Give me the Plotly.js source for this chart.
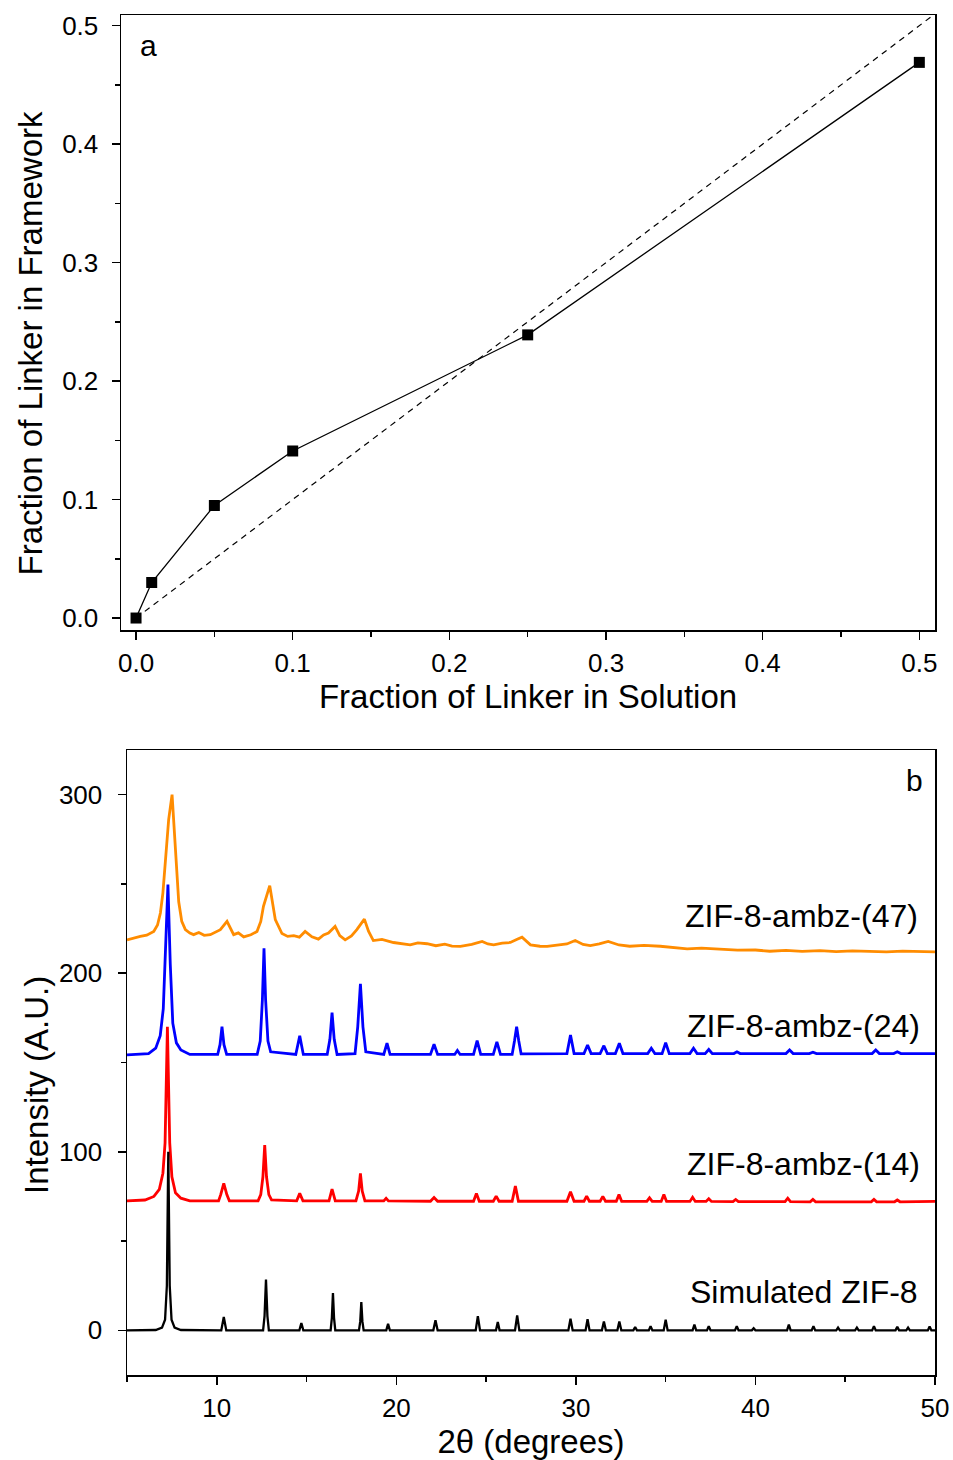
<!DOCTYPE html>
<html>
<head>
<meta charset="utf-8">
<script src="https://cdn.plot.ly/plotly-3.0.1.min.js"></script>
<style>html,body{margin:0;padding:0;background:#fff;}#chart{width:953px;height:1460px;}</style>
</head>
<body>
<div id="chart"></div>
<script>
// ---------- Panel a ----------
const solFrac = [0, 0.01, 0.05, 0.10, 0.25, 0.50];
const frameFrac = [0, 0.030, 0.095, 0.141, 0.239, 0.469];
const parityX = [0, 0.51];
const parityY = [0, 0.51];

// ---------- Panel b (2θ, intensity) ----------
const simX = [5, 6.6, 6.95, 7.12, 7.22, 7.3, 7.38, 7.48, 7.65, 8.0,
  10.25, 10.39, 10.53, 12.58, 12.66, 12.74, 12.82, 12.9,
  14.6, 14.71, 14.82, 16.34, 16.41, 16.47, 16.53, 16.6,
  17.92, 17.99, 18.05, 18.11, 18.18, 19.44, 19.54, 19.64,
  22.06, 22.18, 22.3, 24.42, 24.54, 24.66, 25.55, 25.65, 25.75,
  26.61, 26.73, 26.85, 29.58, 29.7, 29.82, 30.54, 30.65, 30.76,
  31.45, 31.56, 31.67, 32.31, 32.42, 32.53, 33.2, 33.3, 33.4,
  34.06, 34.16, 34.26, 34.89, 35.0, 35.11, 36.5, 36.6, 36.7,
  37.3, 37.4, 37.5, 38.86, 38.96, 39.06, 39.8, 39.9, 40.0,
  41.76, 41.86, 41.96, 43.13, 43.23, 43.33, 44.5, 44.6, 44.7,
  45.55, 45.65, 45.75, 46.5, 46.6, 46.7, 47.8, 47.9, 48.0,
  48.4, 48.5, 48.6, 49.6, 49.7, 49.8, 50];
const simY = [0, 0.2, 1.5, 6, 25, 100, 25, 6, 1.5, 0.2,
  0, 7.5, 0, 0, 8, 28.4, 8, 0,
  0, 4.1, 0, 0, 7, 20.9, 7, 0,
  0, 5, 15.9, 5, 0, 0, 3.7, 0,
  0, 5.6, 0, 0, 8.0, 0, 0, 4.7, 0,
  0, 8.4, 0, 0, 6.5, 0, 0, 6.2, 0,
  0, 5.0, 0, 0, 5.0, 0, 0, 1.9, 0,
  0, 2.4, 0, 0, 6.0, 0, 0, 3.2, 0,
  0, 2.4, 0, 0, 2.4, 0, 0, 1.2, 0,
  0, 3.2, 0, 0, 2.4, 0, 0, 1.5, 0,
  0, 1.5, 0, 0, 2.4, 0, 0, 2.0, 0,
  0, 1.5, 0, 0, 2.2, 0, 0];

const z14X = [5, 6.0, 6.5, 6.8, 7.0, 7.12, 7.25, 7.38, 7.5, 7.7, 8.0, 8.5,
  10.1, 10.22, 10.39, 10.56, 10.7, 12.3, 12.45, 12.57, 12.67, 12.77, 12.9, 13.05,
  14.45, 14.62, 14.8, 16.25, 16.42, 16.6, 17.75, 17.9, 18.0, 18.1, 18.25,
  19.3, 19.43, 19.56, 21.9, 22.1, 22.3, 24.3, 24.46, 24.62,
  25.4, 25.56, 25.72, 26.45, 26.63, 26.8, 29.5, 29.7, 29.9,
  30.45, 30.6, 30.75, 31.35, 31.5, 31.65, 32.25, 32.4, 32.55,
  33.95, 34.1, 34.25, 34.75, 34.9, 35.05, 36.35, 36.5, 36.65,
  37.25, 37.4, 37.55, 38.75, 38.9, 39.05, 41.65, 41.8, 41.95,
  43.05, 43.2, 43.35, 46.45, 46.6, 46.75, 47.75, 47.9, 48.05, 50];
const z14Y = [72.5, 73, 75, 79, 88, 105, 170, 105, 86, 77, 74, 72.5,
  72.5, 76, 82.3, 76, 72.5, 72.5, 76, 86, 103.8, 86, 76, 73,
  72.5, 76.7, 72.5, 72.5, 79.1, 72.5, 72.5, 78, 87.9, 78, 72.5,
  72.5, 73.9, 72.5, 72.3, 74.4, 72.3, 72.3, 76.7, 72.3,
  72.3, 75.2, 72.3, 72.3, 80.8, 72.3, 72.3, 77.6, 72.3,
  72.3, 75.2, 72.3, 72.3, 75.0, 72.3, 72.3, 76.0, 72.3,
  72.2, 74.2, 72.2, 72.2, 76.0, 72.2, 72.2, 74.5, 72.2,
  72.2, 73.7, 72.2, 72.1, 73.3, 72.1, 72.1, 74.0, 72.1,
  72.0, 73.3, 72.0, 72.0, 73.3, 72.0, 72.0, 73.0, 72.0, 72.2];

const z24X = [5, 6.2, 6.6, 6.85, 7.02, 7.15, 7.28, 7.41, 7.55, 7.75, 8.0, 8.5,
  10.05, 10.18, 10.29, 10.4, 10.55, 12.25, 12.42, 12.54, 12.63, 12.72, 12.85, 13.0,
  14.4, 14.62, 14.82, 16.15, 16.3, 16.42, 16.54, 16.7,
  17.7, 17.85, 18.0, 18.14, 18.3, 19.3, 19.48, 19.65,
  21.9, 22.1, 22.3, 23.25, 23.4, 23.55, 24.3, 24.5, 24.7,
  25.4, 25.6, 25.8, 26.45, 26.58, 26.7, 26.82, 26.95,
  29.5, 29.7, 29.9, 30.45, 30.65, 30.85, 31.35, 31.56, 31.75,
  32.2, 32.42, 32.62, 34.0, 34.2, 34.4, 34.8, 35.0, 35.2,
  36.35, 36.55, 36.75, 37.2, 37.4, 37.6, 38.8, 38.97, 39.15,
  41.7, 41.9, 42.1, 43.0, 43.2, 43.4, 46.5, 46.7, 46.9,
  47.7, 47.9, 48.1, 50];
const z24Y = [154.3, 155, 158, 165, 180, 210, 249.6, 205, 172, 161, 157, 154.5,
  154.5, 160, 170.1, 160, 154.5, 154.5, 162, 185, 214, 185, 162, 156,
  154.5, 164.9, 154.5, 154.5, 163, 178, 163, 154.5,
  155, 170, 194, 170, 156, 154.5, 160.8, 154.5,
  154.5, 160.2, 154.5, 154.5, 156.7, 154.5, 154.5, 162.3, 154.5,
  154.5, 161.5, 154.5, 154.5, 162, 170.1, 162, 154.8,
  155, 165.4, 155, 155, 159.8, 155, 155, 159.4, 155,
  155, 160.8, 155, 155, 158, 155, 155, 161.1, 155,
  155, 158, 155, 155, 157.3, 155, 155, 156, 155,
  155, 157, 155, 155, 155.8, 155, 155, 157, 155,
  155, 156, 155, 155];

const z47X = [5, 5.3, 5.74, 6.1, 6.49, 6.7, 6.86, 7.0, 7.13, 7.32, 7.51, 7.69, 7.88, 8.05, 8.25,
  8.5, 8.71, 9.0, 9.3, 9.64, 9.9, 10.2, 10.57, 10.94, 11.2, 11.5, 11.9, 12.24,
  12.45, 12.6, 12.95, 13.26, 13.63, 13.95, 14.29, 14.6, 14.92, 15.3, 15.66, 15.95,
  16.22, 16.59, 16.85, 17.15, 17.5, 17.8, 18.22, 18.45, 18.72, 19.2, 19.84, 20.3,
  20.77, 21.2, 21.71, 22.2, 22.7, 23.1, 23.57, 24.2, 24.78, 25.1, 25.42, 25.9,
  26.35, 26.7, 27.0, 27.47, 28.0, 28.4, 29.0, 29.5, 29.96, 30.4, 30.8, 31.3,
  31.8, 32.4, 33.0, 33.8, 34.7, 35.5, 36.2, 37.0, 38.0, 39.0, 40.0, 40.8,
  41.7, 42.6, 43.6, 44.5, 45.4, 46.4, 47.3, 48.2, 49.1, 50];
const z47Y = [218.7, 219.6, 220.6, 221.3, 223.4, 227, 233.7, 245, 261.7, 286, 300, 271, 240, 229, 224.4,
  222.5, 221.6, 222.8, 221.2, 221.6, 223.1, 224.4, 229, 221.6, 222.6, 220.3, 221.5, 223.4,
  229, 237.5, 249, 230, 222.2, 220.6, 221, 220.2, 223.4, 220.4, 219.1, 221.4,
  222.5, 226.2, 221.1, 218.7, 220.9, 224.4, 230.3, 223.5, 218.3, 218.9, 217.2, 216.6,
  215.9, 217.0, 216.5, 215.4, 216.3, 215.2, 215.0, 216.1, 217.8, 216.4, 215.9, 216.8,
  217.2, 218.9, 220.2, 215.9, 215.1, 215.0, 215.9, 216.4, 218.3, 216.1, 215.5, 216.4,
  217.8, 215.8, 215.1, 215.6, 215.1, 214.5, 213.6, 214.1, 213.3, 212.9, 213.0, 212.3,
  212.8, 212.2, 212.7, 212.1, 212.5, 212.3, 211.9, 212.4, 212.0, 211.9];

const seriesNames = ['Simulated ZIF-8', 'ZIF-8-ambz-(14)', 'ZIF-8-ambz-(24)', 'ZIF-8-ambz-(47)'];
const labelX = [49.18, 49.29, 49.29, 49.18];
const labelY = [21.3, 93.1, 170.5, 232.2];

const FONT = 'Liberation Sans, Arial, sans-serif';

const traces = [
  {x: parityX, y: parityY, xaxis: 'x', yaxis: 'y', mode: 'lines',
   line: {color: '#000', width: 1.2, dash: '6px,5px'}, showlegend: false, hoverinfo: 'skip'},
  {x: solFrac, y: frameFrac, xaxis: 'x', yaxis: 'y', mode: 'lines+markers',
   line: {color: '#000', width: 1.3}, marker: {symbol: 'square', size: 11, color: '#000'}, showlegend: false},
  {x: z47X, y: z47Y, xaxis: 'x2', yaxis: 'y2', mode: 'lines', name: seriesNames[3],
   line: {color: '#FF8C00', width: 2.8}, showlegend: false},
  {x: z24X, y: z24Y, xaxis: 'x2', yaxis: 'y2', mode: 'lines', name: seriesNames[2],
   line: {color: '#0000FF', width: 2.8}, showlegend: false},
  {x: z14X, y: z14Y, xaxis: 'x2', yaxis: 'y2', mode: 'lines', name: seriesNames[1],
   line: {color: '#FF0000', width: 2.8}, showlegend: false},
  {x: simX, y: simY, xaxis: 'x2', yaxis: 'y2', mode: 'lines', name: seriesNames[0],
   line: {color: '#000000', width: 2.3}, showlegend: false}
];

const axisCommon = {
  showgrid: false, zeroline: false, showline: true, linecolor: '#000', linewidth: 1.5,
  mirror: true, ticks: 'outside', tickcolor: '#000', tickwidth: 1.5, ticklen: 8,
  tickfont: {family: FONT, size: 26, color: '#000'}
};
const titleFont = {family: FONT, size: 33, color: '#000'};

const annotations = seriesNames.map((n, i) => ({
  xref: 'x2', yref: 'y2', x: labelX[i], y: labelY[i], text: n, showarrow: false,
  xanchor: 'right', yanchor: 'middle', font: {family: FONT, size: 32, color: '#000'}
}));
annotations.push({xref: 'x', yref: 'y', x: 0.0077, y: 0.483, text: 'a', showarrow: false,
  xanchor: 'center', yanchor: 'middle', font: {family: FONT, size: 30, color: '#000'}});
annotations.push({xref: 'x2', yref: 'y2', x: 48.85, y: 307.9, text: 'b', showarrow: false,
  xanchor: 'center', yanchor: 'middle', font: {family: FONT, size: 30, color: '#000'}});
// y-axis titles (placed where the reference puts them)
annotations.push({xref: 'paper', yref: 'paper', x: 30/953, y: 1 - 343.5/1460, text: 'Fraction of Linker in Framework',
  textangle: -90, showarrow: false, xanchor: 'center', yanchor: 'middle', font: titleFont});
annotations.push({xref: 'paper', yref: 'paper', x: 36/953, y: 1 - 1085/1460, text: 'Intensity (A.U.)',
  textangle: -90, showarrow: false, xanchor: 'center', yanchor: 'middle', font: titleFont});

const layout = {
  width: 953, height: 1460,
  margin: {l: 0, r: 0, t: 0, b: 0},
  paper_bgcolor: '#fff', plot_bgcolor: '#fff',
  font: {family: FONT, color: '#000'},
  xaxis: Object.assign({}, axisCommon, {
    domain: [121/953, 935/953], anchor: 'y', range: [-0.0096, 0.51],
    tickvals: [0, 0.1, 0.2, 0.3, 0.4, 0.5], ticktext: ['0.0', '0.1', '0.2', '0.3', '0.4', '0.5'],
    minor: {tickvals: [0.05, 0.15, 0.25, 0.35, 0.45], ticklen: 5, tickcolor: '#000', tickwidth: 1.5},
    ticklabelstandoff: 1,
    title: {text: 'Fraction of Linker in Solution', font: titleFont, standoff: 6}
  }),
  yaxis: Object.assign({}, axisCommon, {
    domain: [1 - 630/1460, 1 - 15/1460], anchor: 'x', range: [-0.0101, 0.509],
    tickvals: [0, 0.1, 0.2, 0.3, 0.4, 0.5], ticktext: ['0.0', '0.1', '0.2', '0.3', '0.4', '0.5'],
    minor: {tickvals: [0.05, 0.15, 0.25, 0.35, 0.45], ticklen: 5, tickcolor: '#000', tickwidth: 1.5},
    ticklabelstandoff: 8
  }),
  xaxis2: Object.assign({}, axisCommon, {
    domain: [127/953, 935/953], anchor: 'y2', range: [5, 50],
    tickvals: [10, 20, 30, 40, 50],
    minor: {tickvals: [5, 15, 25, 35, 45], ticklen: 5, tickcolor: '#000', tickwidth: 1.5},
    ticklabelstandoff: 1,
    title: {text: '2θ (degrees)', font: titleFont, standoff: 4}
  }),
  yaxis2: Object.assign({}, axisCommon, {
    domain: [1 - 1375/1460, 1 - 750/1460], anchor: 'x2', range: [-25, 325],
    tickvals: [0, 100, 200, 300],
    minor: {tickvals: [50, 150, 250], ticklen: 5, tickcolor: '#000', tickwidth: 1.5},
    ticklabelstandoff: 10
  }),
  annotations: annotations
};

Plotly.newPlot('chart', traces, layout, {displayModeBar: false, staticPlot: true});
</script>
</body>
</html>
